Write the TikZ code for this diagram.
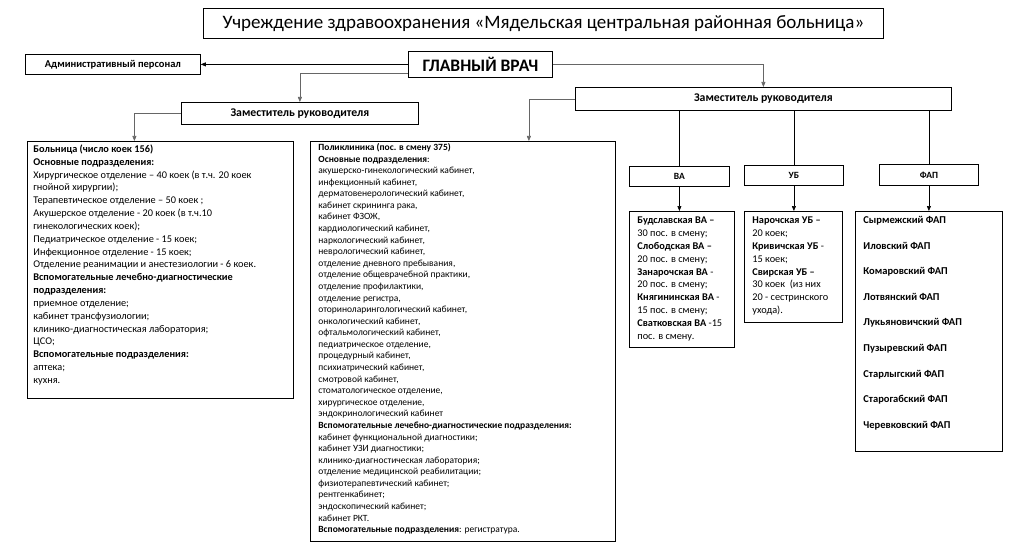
\documentclass[tikz,border=0pt]{standalone}
\usepackage{fontspec}
\setmainfont{Carlito}
\usetikzlibrary{arrows.meta}
\newcommand\mytextbox[3]{\parbox[t][#2][t]{#1}{#3}}
\begin{document}
\begin{tikzpicture}[x=1pt,y=-1pt,
  box/.style={draw, line width=0.8pt, inner sep=0pt},
  conn/.style={line width=0.6pt},
  gconn/.style={line width=0.6pt, draw=black!60},
  arr/.style={conn,-{Triangle[length=5pt,width=4pt]}},
  garr/.style={gconn,-{Triangle[length=5pt,width=4pt]}}]
\useasboundingbox (0,0) rectangle (1024,556);
\fill[white] (0,0) rectangle (1024,556);

\node[box, anchor=north west, minimum width=680pt, minimum height=30pt] (title) at (203,8)
  {\fontsize{19}{21}\selectfont Учреждение здравоохранения «Мядельская центральная районная больница»};
\node[box, anchor=north west, minimum width=175pt, minimum height=20pt] (adm) at (25,54)
  {\bfseries\fontsize{10.5}{12}\selectfont Административный персонал};
\node[box, anchor=north west, minimum width=144pt, minimum height=26pt] (gv) at (408,51)
  {\bfseries\fontsize{17.5}{19}\selectfont ГЛАВНЫЙ ВРАЧ};
\node[box, anchor=north west, minimum width=237pt, minimum height=22pt] (zam1) at (181,102)
  {\bfseries\fontsize{11.8}{13}\selectfont Заместитель руководителя};
\node[box, anchor=north west, minimum width=376pt, minimum height=23pt] (zam2) at (575,87)
  {\bfseries\fontsize{11.8}{13}\selectfont Заместитель руководителя};
\node[box, anchor=north west, minimum width=100pt, minimum height=20pt] (va) at (629,166)
  {\bfseries\fontsize{9.5}{11}\selectfont ВА};
\node[box, anchor=north west, minimum width=99pt, minimum height=20pt] (ub) at (744,165)
  {\bfseries\fontsize{9.5}{11}\selectfont УБ};
\node[box, anchor=north west, minimum width=99pt, minimum height=21pt] (fap) at (879,164)
  {\bfseries\fontsize{9.5}{11}\selectfont ФАП};

\node[box, anchor=north west, inner xsep=6pt, inner ysep=2pt] (bol) at (27,141)
  {\mytextbox{254pt}{253pt}{\fontsize{10.3}{12.83}\selectfont\strut
  \textbf{Больница (число коек 156)}\\
  \textbf{Основные подразделения:}\\
  Хирургическое отделение – 40 коек (в т.ч. 20 коек\\
  гнойной хирургии);\\
  Терапевтическое отделение – 50 коек ;\\
  Акушерское отделение - 20 коек (в т.ч.10\\
  гинекологических коек);\\
  Педиатрическое отделение - 15 коек;\\
  Инфекционное отделение - 15 коек;\\
  Отделение реанимации и анестезиологии - 6 коек.\\
  \textbf{Вспомогательные лечебно-диагностические}\\
  \textbf{подразделения:}\\
  приемное отделение;\\
  кабинет трансфузиологии;\\
  клинико-диагностическая лаборатория;\\
  ЦСО;\\
  \textbf{Вспомогательные подразделения:}\\
  аптека;\\
  кухня.}};

\node[box, anchor=north west, inner xsep=8pt, inner ysep=1pt] (pol) at (310,141)
  {\mytextbox{289pt}{398pt}{\fontsize{9.5}{11.58}\selectfont\strut
  \textbf{Поликлиника (пос. в смену 375)}\\
  \textbf{Основные подразделения}:\\
  акушерско-гинекологический кабинет,\\
  инфекционный кабинет,\\
  дерматовенерологический кабинет,\\
  кабинет скрининга рака,\\
  кабинет ФЗОЖ,\\
  кардиологический кабинет,\\
  наркологический кабинет,\\
  неврологический кабинет,\\
  отделение дневного пребывания,\\
  отделение общеврачебной практики,\\
  отделение профилактики,\\
  отделение регистра,\\
  оториноларингологический кабинет,\\
  онкологический кабинет,\\
  офтальмологический кабинет,\\
  педиатрическое отделение,\\
  процедурный кабинет,\\
  психиатрический кабинет,\\
  смотровой кабинет,\\
  стоматологическое отделение,\\
  хирургическое отделение,\\
  эндокринологический кабинет\\
  \textbf{Вспомогательные лечебно-диагностические подразделения:}\\
  кабинет функциональной диагностики;\\
  кабинет УЗИ диагностики;\\
  клинико-диагностическая лаборатория;\\
  отделение медицинской реабилитации;\\
  физиотерапевтический кабинет;\\
  рентгенкабинет;\\
  эндоскопический кабинет;\\
  кабинет РКТ.\\
  \textbf{Вспомогательные подразделения}: регистратура.}};

\node[box, anchor=north west, inner xsep=8pt, inner ysep=3.5pt] (valist) at (629,211)
  {\mytextbox{89pt}{129pt}{\fontsize{10.3}{12.8}\selectfont\strut
  \textbf{Будславская ВА –}\\
  30 пос. в смену;\\
  \textbf{Слободская ВА –}\\
  20 пос. в смену;\\
  \textbf{Занарочская ВА} -\\
  20 пос. в смену;\\
  \textbf{Княгининская ВА} -\\
  15 пос. в смену;\\
  \textbf{Сватковская ВА} -15\\
  пос. в смену.}};

\node[box, anchor=north west, inner xsep=8pt, inner ysep=3.5pt] (ublist) at (744,211)
  {\mytextbox{82pt}{104pt}{\fontsize{10.3}{12.8}\selectfont\strut
  \textbf{Нарочская УБ –}\\
  20 коек;\\
  \textbf{Кривичская УБ} -\\
  15 коек;\\
  \textbf{Свирская УБ –}\\
  30 коек~ (из них\\
  20 - сестринского\\
  ухода).}};

\node[box, anchor=north west, inner xsep=8pt, inner ysep=5pt] (faplist) at (855,211)
  {\mytextbox{131pt}{230pt}{\bfseries\fontsize{10.5}{25.6}\selectfont
  Сырмежский ФАП\\
  Иловский ФАП\\
  Комаровский ФАП\\
  Лотвянский ФАП\\
  Лукьяновичский ФАП\\
  Пузыревский ФАП\\
  Старлыгский ФАП\\
  Старогабский ФАП\\
  Черевковский ФАП}};

\draw[arr] (gv.west) -- (adm.east);
\draw[garr] (gv.east) -| (zam2.north);
\draw[garr] ([yshift=-9pt]gv.west) -| (zam1.north);
\draw[garr] (zam1.west) -| ([xshift=-26pt]bol.north);
\draw[garr] (zam2.west) -| ([xshift=66pt]pol.north);
\draw[conn] (zam2.south -| va.north) -- (va.north);
\draw[conn] (zam2.south -| ub.north) -- (ub.north);
\draw[conn] (zam2.south -| fap.north) -- (fap.north);
\draw[arr] (va.south) -- (va.south |- valist.north);
\draw[arr] (ub.south) -- (ub.south |- ublist.north);
\draw[arr] (fap.south) -- (fap.south |- faplist.north);
\end{tikzpicture}
\end{document}
